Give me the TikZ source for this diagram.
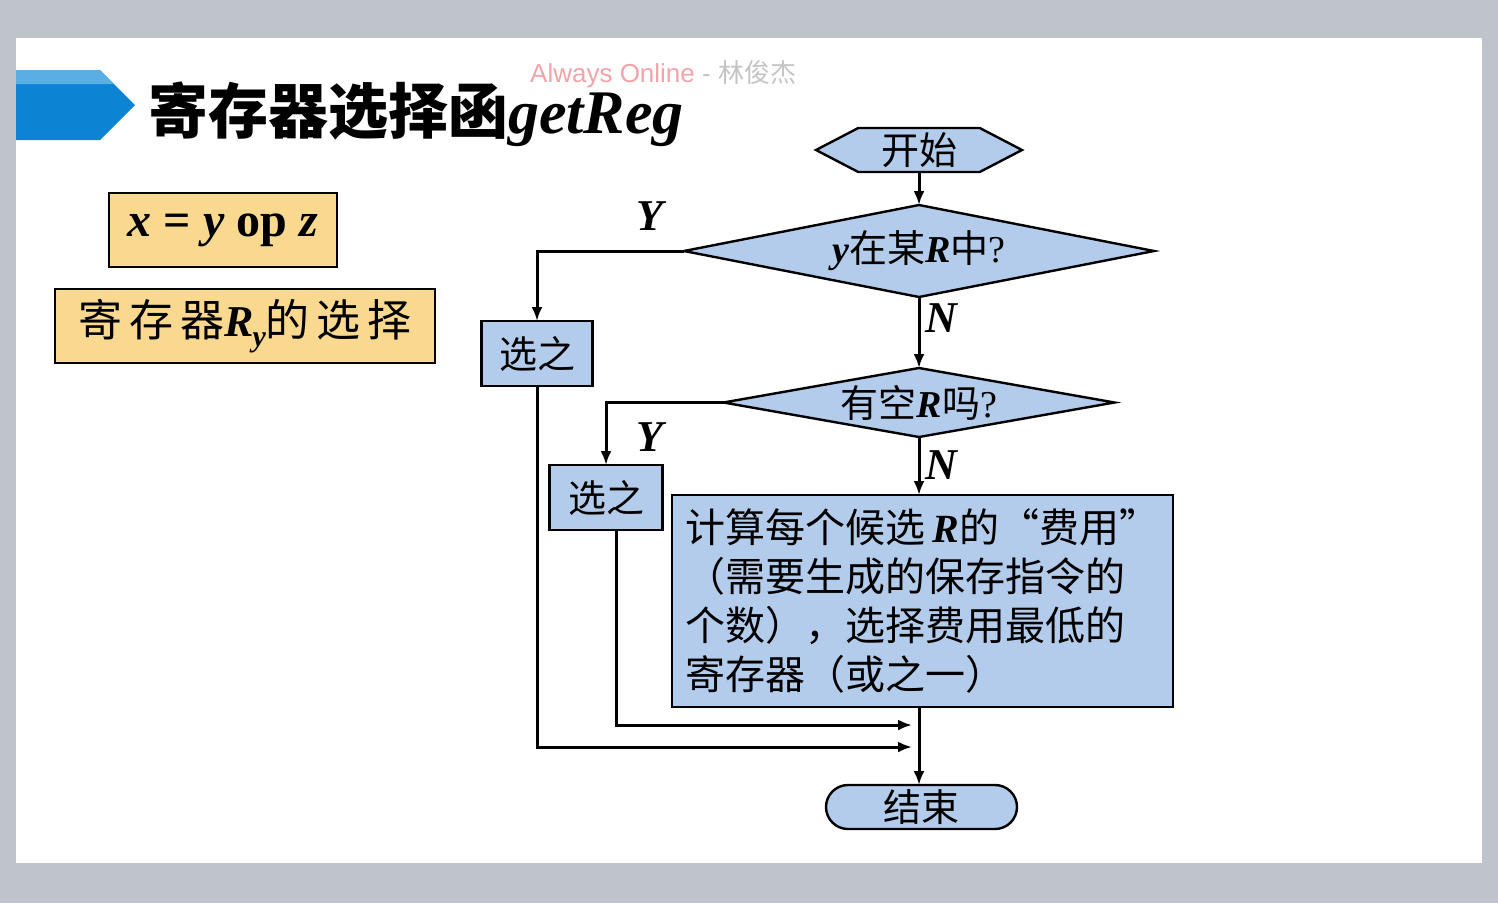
\documentclass[tikz,border=0pt]{standalone}
\usepackage{fontspec}
\setmainfont{Noto Sans CJK SC}
\newfontfamily\lat{Liberation Serif}
\newfontfamily\lsans{Liberation Sans}
\newfontfamily\cjkf{Noto Sans CJK SC}
\usetikzlibrary{arrows.meta,shapes.geometric,shapes.symbols}
\definecolor{bgc}{HTML}{BFC3CC}
\definecolor{flow}{HTML}{B4CCEB}
\definecolor{note}{HTML}{F8D98F}
\definecolor{banner}{HTML}{0D84D3}
\definecolor{bannerlt}{HTML}{5AAEE4}
\definecolor{wmpink}{HTML}{F3A3AA}
\definecolor{wmgray}{HTML}{C4C4C4}
\newcommand\LBI[1]{{\lat\bfseries\itshape #1}}
\begin{document}
\begin{tikzpicture}[x=1pt,y=-1pt,
  fbox/.style={draw, fill=flow, line width=2.4pt, inner sep=0pt, outer sep=0pt, font=\fontsize{38}{46}\selectfont},
  nbox/.style={draw, fill=note, line width=1.8pt, inner sep=0pt, outer sep=0pt},
  conn/.style={line width=3pt, -{Latex[length=14pt,width=11pt]}},
  lbl/.style={font=\lat\bfseries\itshape\fontsize{44}{44}\selectfont, inner sep=0pt}]
\useasboundingbox (0,0) rectangle (1498,903);
\fill[bgc] (0,0) rectangle (1498,903);
\fill[white] (16,38) rectangle (1482,863);
% banner
\fill[banner] (16,70) -- (100,70) -- (135,105) -- (100,140) -- (16,140) -- cycle;
\fill[bannerlt] (16,70) -- (100,70) -- (114,84) -- (16,84) -- cycle;
% title
\node[anchor=base west, inner sep=0pt] (title) at (148,133)
  {\fontsize{60}{60}\selectfont\bfseries 寄存器选择函{\lat\bfseries\itshape\fontsize{62}{62}\selectfont getReg}};
\node[anchor=base west, inner sep=0pt] (wm) at (530,82)
  {\lsans\fontsize{26}{26}\selectfont\color{wmpink}Always Online \color{wmgray}- {\cjkf 林俊杰}};
% notes
\node[nbox, minimum width=228, minimum height=74] (eq) at (223,230)
  {\lat\bfseries\fontsize{48}{48}\selectfont\itshape x\/ \upshape= \itshape y\/ \upshape op \itshape z};
\node[nbox, minimum width=380, minimum height=74] (rsel) at (245,326)
  {\fontsize{44}{44}\selectfont 寄\hspace{7pt}存\hspace{7pt}器\LBI{R\kern-1pt\raisebox{-10pt}{\fontsize{30}{30}\selectfont y}}的\hspace{7pt}选\hspace{7pt}择};
% flowchart
\node[fbox, signal, signal to=west and east, signal pointer angle=55, minimum width=206, minimum height=44] (start) at (919,150) {开始};
\node[fbox, diamond, shape aspect=5.1, minimum width=470, minimum height=92] (d1) at (919,251)
  {\LBI{y}在某\LBI{R}中{\lat ?}};
\node[fbox, minimum width=111, minimum height=65] (s1) at (537,353.5) {选之};
\node[fbox, diamond, shape aspect=5.7, minimum width=391, minimum height=69] (d2) at (919,402.5)
  {有空\LBI{R}吗{\lat ?}};
\node[fbox, minimum width=113, minimum height=65] (s2) at (606,497.5) {选之};
\node[fbox, minimum width=501, minimum height=212, align=left, font=\fontsize{40}{49}\selectfont] (big) at (922.5,601)
  {计算每个候选\,\LBI{R}的“费用”\\（需要生成的保存指令的\\个数），选择费用最低的\\寄存器（或之一）};
\node[fbox, rounded corners=22pt, minimum width=191, minimum height=44] (end) at (921.5,807) {结束};
\coordinate (m1) at (912,725);
\coordinate (m2) at (912,747);
% connectors
\draw[conn] (start.south) -- (d1.north);
\draw[conn] (d1.west) -| (s1.north);
\draw[conn] (d1.south) -- (d2.north);
\draw[conn] (d2.west) -| (s2.north);
\draw[conn] (d2.south) -- (d2.south |- big.north);
\draw[conn] (d2.south |- big.south) -- (d2.south |- end.north);
\draw[conn] ([xshift=10pt]s2.south) |- (m1);
\draw[conn] (s1.south) |- (m2);
% labels
\node[lbl] (y1) at (650,216) {Y};
\node[lbl] (n1) at (941,318) {N};
\node[lbl] (y2) at (650,437) {Y};
\node[lbl] (n2) at (941,465) {N};
\end{tikzpicture}
\end{document}
